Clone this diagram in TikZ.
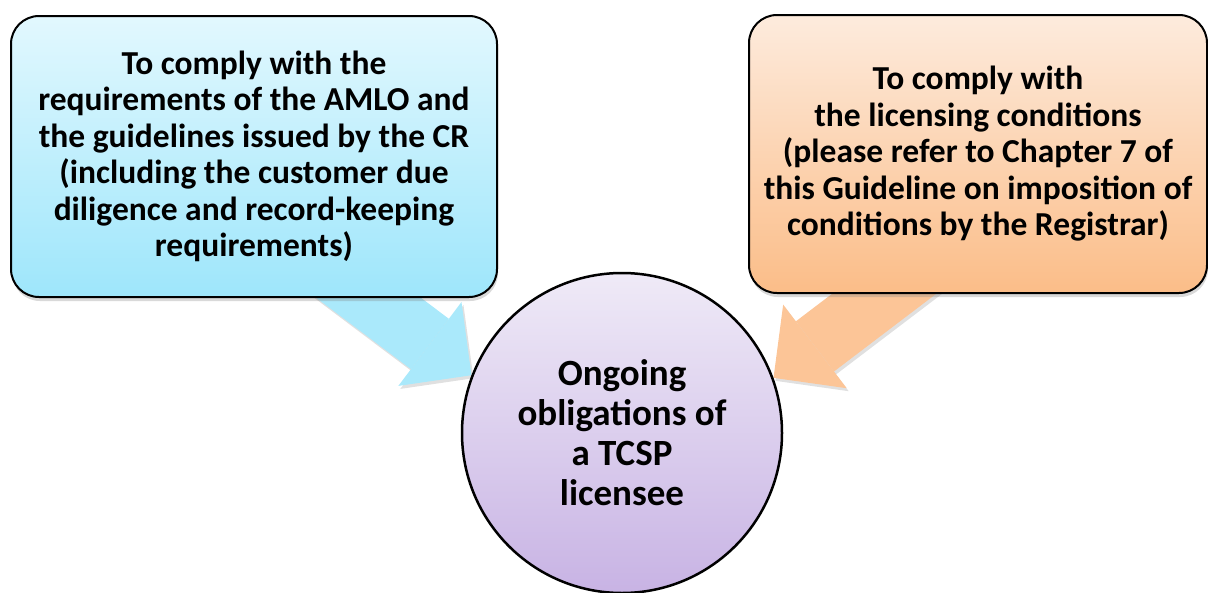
\documentclass[tikz,border=0pt]{standalone}
\usepackage{fontspec}
\setmainfont{Carlito}
\usetikzlibrary{arrows.meta,shadows,calc}
\pgfdeclarelayer{bg}
\pgfsetlayers{bg,main}

\definecolor{amlotop}{HTML}{E2F8FE}
\definecolor{amlobot}{HTML}{9EE6FB}
\definecolor{amloarr}{HTML}{AAE9FB}
\definecolor{lictop}{HTML}{FDEBDD}
\definecolor{licbot}{HTML}{FBBD88}
\definecolor{licarr}{HTML}{FCC597}
\definecolor{coretop}{HTML}{EFEAF7}
\definecolor{corebot}{HTML}{C8B3E4}

\tikzset{
  obox/.style={draw=black, line width=2pt, rounded corners=28pt, align=center,
    font=\fontsize{33.5}{36.5}\selectfont\bfseries,
    drop shadow={shadow xshift=1pt, shadow yshift=-4pt, opacity=.3}},
  pointer/.style={line width=63pt, -{Triangle[length=52pt, width=105pt, line width=0pt]}},
  pointershade/.style={pointer, draw=black, opacity=.12,
    transform canvas={xshift=2pt, yshift=-3pt}}
}

\begin{document}
\begin{tikzpicture}[x=1pt,y=-1pt]
  \useasboundingbox (0,0) rectangle (1208,592);

  % the three blocks
  \node[obox, top color=amlotop, bottom color=amlobot,
    minimum width=486pt, minimum height=281pt] (amlo) at (254,156.5)
    {To comply with the\\requirements of the AMLO and\\the guidelines issued by the CR\\(including the customer due\\diligence and record-keeping\\requirements)};
  \node[obox, top color=lictop, bottom color=licbot,
    minimum width=458pt, minimum height=278pt] (licence) at (978,154)
    {To comply with\\the licensing conditions\\(please refer to Chapter 7 of\\this Guideline on imposition of\\conditions by the Registrar)};
  \node[circle, draw=black, line width=2.5pt, minimum size=320pt, align=center,
    top color=coretop, bottom color=corebot,
    font=\fontsize{37}{40}\selectfont\bfseries] (core) at (622,433)
    {Ongoing\\obligations of\\a TCSP\\licensee};

  % block arrows behind
  \begin{pgfonlayer}{bg}
    \draw[pointershade] ($(amlo.south)+(59,-42)$) -- (core.159);
    \draw[pointershade] ($(licence.south)+(-52,-32)$) -- (core.20);
    \draw[pointer, draw=amloarr] ($(amlo.south)+(59,-42)$) -- (core.159);
    \draw[pointer, draw=licarr] ($(licence.south)+(-52,-32)$) -- (core.20);
  \end{pgfonlayer}
\end{tikzpicture}
\end{document}
